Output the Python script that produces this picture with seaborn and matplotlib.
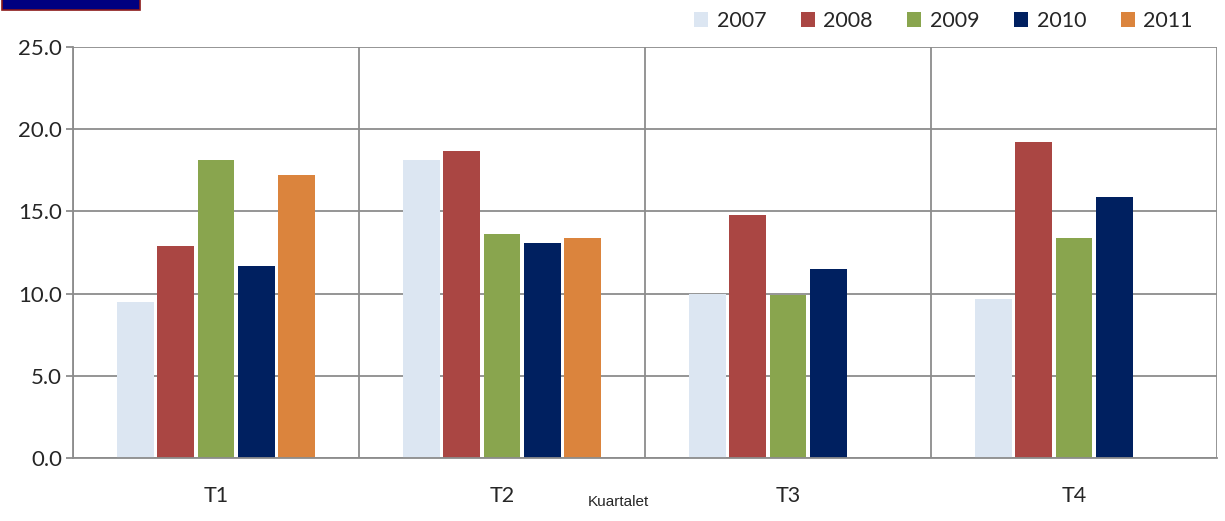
import numpy as np
import pandas as pd
import seaborn as sns
import matplotlib.pyplot as plt
from matplotlib.patches import Rectangle

quarters = ['T1', 'T2', 'T3', 'T4']
years = ['2007', '2008', '2009', '2010', '2011']
v2007 = [9.5, 18.1, 10.0, 9.7]
v2008 = [12.9, 18.7, 14.8, 19.25]
v2009 = [18.1, 13.6, 9.9, 13.4]
v2010 = [11.7, 13.05, 11.5, 15.85]
v2011 = [17.2, 13.4, np.nan, np.nan]
colors = ['#DCE6F2', '#AA4643', '#89A54E', '#002060', '#DB843D']

rows = []
for yr, vals in zip(years, [v2007, v2008, v2009, v2010, v2011]):
    for q, v in zip(quarters, vals):
        rows.append({'Kuartal': q, 'Vit': yr, 'Vlera': v})
df = pd.DataFrame(rows)

sns.set_style('white')
plt.rcParams['font.family'] = ['Lato', 'DejaVu Sans']

fig = plt.figure(figsize=(12.25, 5.21), dpi=100)
ax = fig.add_axes([73/1225, 1-458/521, (1217-73)/1225, (458-47)/521])

sns.barplot(data=df, x='Kuartal', y='Vlera', hue='Vit', hue_order=years,
            palette=colors, saturation=1, errorbar=None, width=0.705, gap=0.09,
            linewidth=0, ax=ax)

gray = '#8c8c8c'
fs = 15.5
ax.set_ylim(0, 25)
ax.set_xlim(-0.5, 3.5)
ax.set_yticks(np.arange(0, 25.1, 5))
ax.set_yticklabels([f'{t:.1f}' for t in np.arange(0, 25.1, 5)], fontsize=16)
ax.set_xticks(range(4))
ax.set_xticklabels(quarters, fontsize=fs)
ax.set_xticks(np.arange(-0.5, 3.6, 1), minor=True)
ax.grid(True, axis='y', color=gray, lw=1.3)
ax.grid(True, axis='x', which='minor', color=gray, lw=1.3)
ax.set_axisbelow(True)
ax.tick_params(axis='x', which='major', length=0, pad=20)
ax.tick_params(axis='x', which='minor', length=5, width=1.3, color=gray, direction='out')
ax.tick_params(axis='y', length=5, width=1.3, color=gray, direction='out', pad=3, left=True)
for s in ['top', 'right']:
    ax.spines[s].set_visible(False)
for s in ['left', 'bottom']:
    ax.spines[s].set_color(gray)
    ax.spines[s].set_linewidth(1.3)
ax.set_xlabel('')
ax.set_ylabel('')

fig.text(618/1225, 1-502/521, 'Kuartalet', ha='center', va='center',
         fontsize=11, family=['Liberation Sans'])

sns.move_legend(ax, 'center right', bbox_to_anchor=(1212/1225, 1-21/521),
                bbox_transform=fig.transFigure, ncol=5, frameon=False,
                title=None, fontsize=fs, handlelength=0.65, handleheight=0.65,
                handletextpad=0.4, columnspacing=1.6)

fig.patches.append(Rectangle((2/1225, 1-10/521), 138/1225, 12/521,
                             transform=fig.transFigure, facecolor='#000080',
                             edgecolor='#8B1A1A', lw=1.2))

fig.savefig('out.png', dpi=100)
